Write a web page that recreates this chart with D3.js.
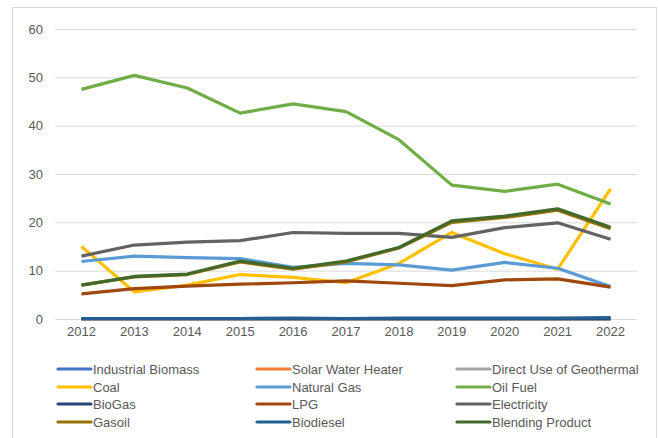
<!DOCTYPE html>
<html>
<head>
<meta charset="utf-8">
<script src="https://cdn.jsdelivr.net/npm/d3@7"></script>
<style>
  body { margin: 0; background: #fff; }
  text { font-family: "Liberation Sans", sans-serif; fill: #595959; }
</style>
</head>
<body>
<div id="chart"></div>
<script>
// data
const years = [2012, 2013, 2014, 2015, 2016, 2017, 2018, 2019, 2020, 2021, 2022];
const yTicks = [0, 10, 20, 30, 40, 50, 60];

const industrialBiomass = [0, 0, 0, 0, 0, 0, 0, 0, 0, 0, 0];
const solarWaterHeater = [0, 0, 0, 0, 0, 0, 0, 0, 0, 0, 0];
const geothermal = [0, 0, 0, 0, 0, 0, 0, 0, 0, 0, 0];
const coal = [15.0, 5.6, 7.0, 9.2, 8.6, 7.5, 11.5, 17.9, 13.5, 10.3, 26.9];
const naturalGas = [11.9, 13.0, 12.7, 12.5, 10.7, 11.5, 11.2, 10.1, 11.7, 10.5, 6.7];
const oilFuel = [47.5, 50.4, 47.8, 42.6, 44.5, 42.9, 37.1, 27.7, 26.4, 27.9, 23.8];
const bioGas = [0.05, 0.05, 0.05, 0.05, 0.05, 0.05, 0.05, 0.05, 0.05, 0.05, 0.05];
const lpg = [5.2, 6.3, 6.8, 7.2, 7.5, 7.9, 7.4, 6.9, 8.1, 8.3, 6.6];
const electricity = [13.0, 15.3, 15.9, 16.2, 17.9, 17.7, 17.7, 16.9, 18.9, 19.9, 16.5];
const gasoil = [7.0, 8.7, 9.2, 11.8, 10.3, 11.8, 14.7, 20.0, 21.0, 22.5, 18.7];
const biodiesel = [0.1, 0.1, 0.1, 0.1, 0.2, 0.1, 0.2, 0.2, 0.2, 0.2, 0.3];
const blendingProduct = [7.0, 8.8, 9.3, 12.0, 10.5, 12.0, 14.8, 20.3, 21.3, 22.8, 19.0];

const seriesNames = ["Industrial Biomass", "Solar Water Heater", "Direct Use of Geothermal",
  "Coal", "Natural Gas", "Oil Fuel", "BioGas", "LPG", "Electricity",
  "Gasoil", "Biodiesel", "Blending Product"];
const seriesValues = [industrialBiomass, solarWaterHeater, geothermal, coal, naturalGas, oilFuel,
  bioGas, lpg, electricity, gasoil, biodiesel, blendingProduct];
const colors = ["#4472C4", "#ED7D31", "#A5A5A5", "#FFC000", "#5B9BD5", "#70AD47",
  "#264478", "#9E480E", "#636363", "#997300", "#255E91", "#43682B"];

const width = 658, height = 438;
const margin = {top: 29, right: 21, bottom: 119, left: 55};

const svg = d3.select("#chart")
  .append("svg")
  .attr("width", width)
  .attr("height", height);

// outer frame
svg.append("rect")
  .attr("x", 12.5).attr("y", 7.5)
  .attr("width", 644).attr("height", 440)
  .attr("fill", "none")
  .attr("stroke", "#d9d9d9");

const x = d3.scaleBand()
  .domain(years)
  .range([margin.left, width - margin.right]);

const y = d3.scaleLinear()
  .domain([0, 60])
  .range([height - margin.bottom, margin.top]);

// grid lines + y labels
const yAxis = svg.append("g")
  .attr("transform", `translate(${margin.left},0)`)
  .call(d3.axisLeft(y).tickValues(yTicks).tickSize(-(width - margin.left - margin.right)).tickPadding(12));
yAxis.select(".domain").remove();
yAxis.selectAll("line").attr("stroke", "#d9d9d9");
yAxis.selectAll("text").attr("font-size", "13px").attr("fill", "#595959");

// x labels
const xAxis = svg.append("g")
  .attr("transform", `translate(0,${height - margin.bottom})`)
  .call(d3.axisBottom(x).tickSize(0).tickPadding(8));
xAxis.select(".domain").remove();
xAxis.selectAll("text").attr("font-size", "13px").attr("fill", "#595959");

const line = d3.line()
  .x((d, i) => x(years[i]) + x.bandwidth() / 2)
  .y(d => y(d));

seriesValues.forEach((vals, k) => {
  svg.append("path")
    .datum(vals)
    .attr("d", line)
    .attr("fill", "none")
    .attr("stroke", colors[k])
    .attr("stroke-width", 3.2)
    .attr("stroke-linejoin", "round");
});

// legend, 3 columns x 4 rows
const legX = [58, 257, 457];
const legY = [369, 387, 404, 422];
const legend = svg.append("g");
seriesNames.forEach((name, k) => {
  const lx = legX[k % 3], ly = legY[Math.floor(k / 3)];
  legend.append("line")
    .attr("x1", lx).attr("x2", lx + 33)
    .attr("y1", ly).attr("y2", ly)
    .attr("stroke", colors[k])
    .attr("stroke-width", 3.2)
    .attr("stroke-linecap", "round");
  legend.append("text")
    .attr("x", lx + 35).attr("y", ly)
    .attr("dy", "0.35em")
    .attr("font-size", "13px")
    .text(name);
});
</script>
</body>
</html>
